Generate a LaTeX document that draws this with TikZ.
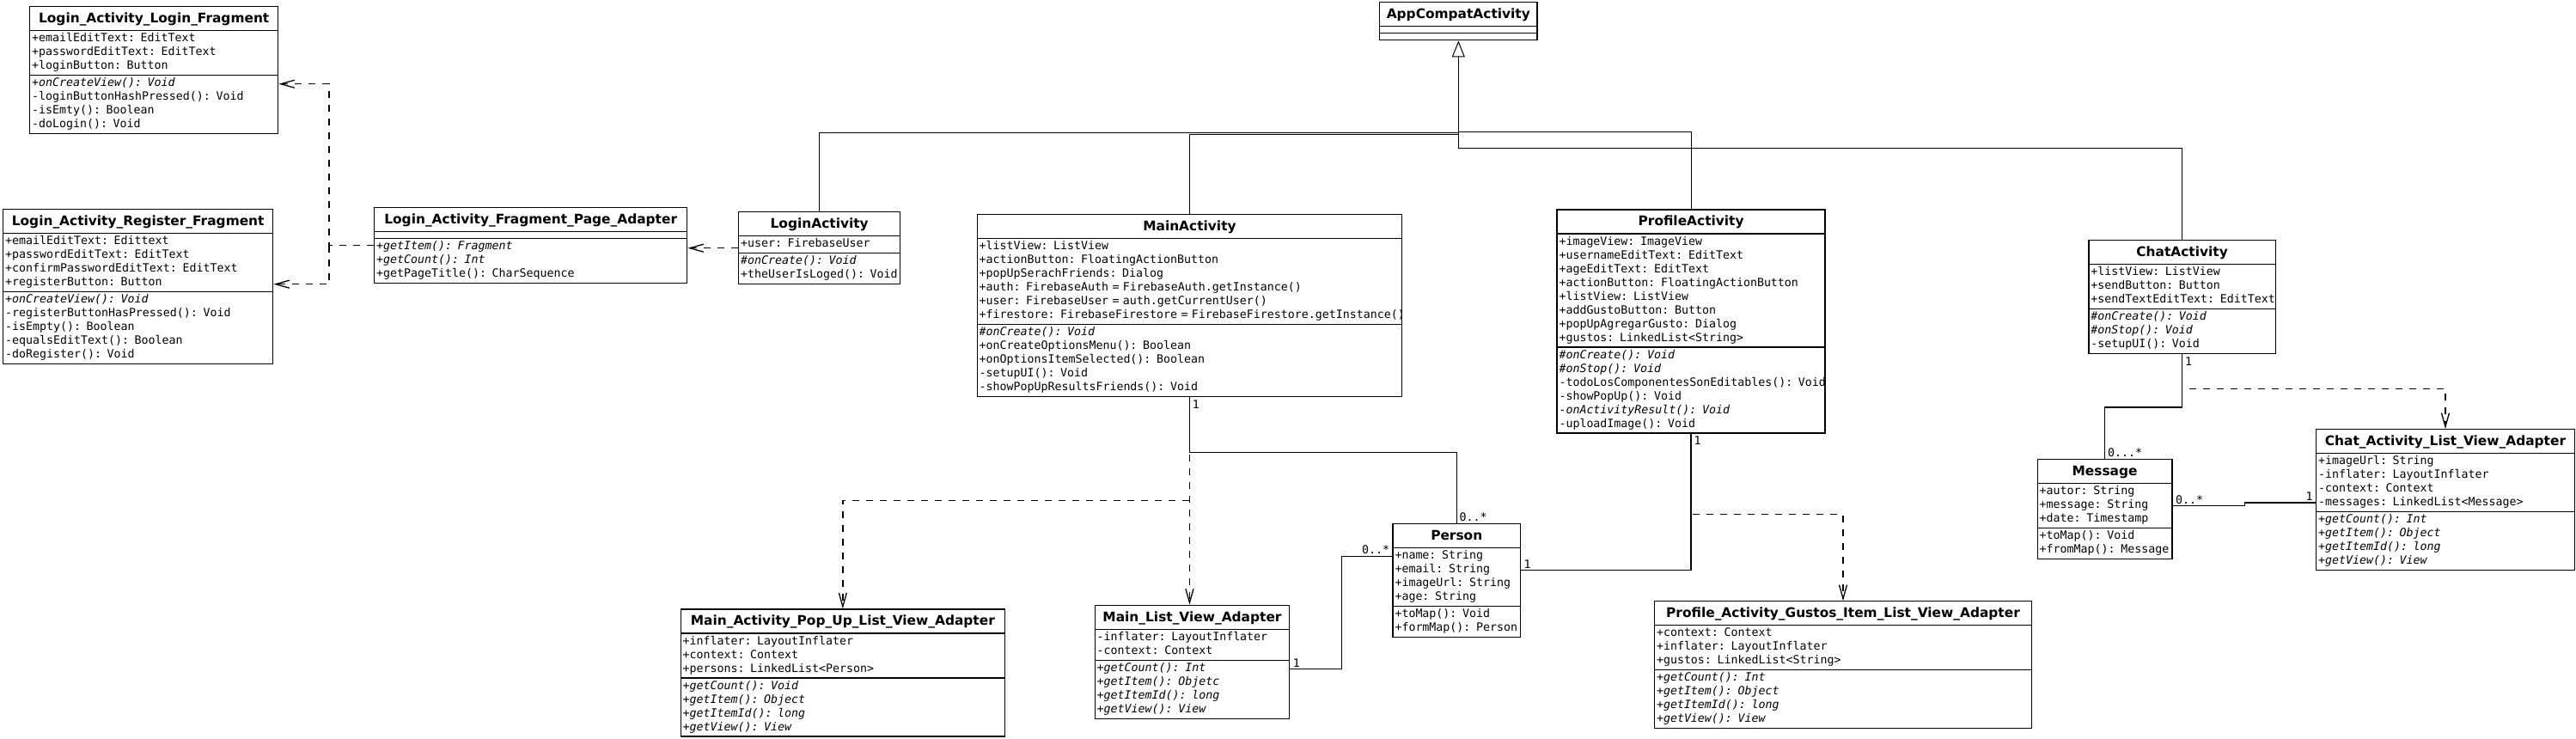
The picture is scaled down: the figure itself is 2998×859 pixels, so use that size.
\documentclass[tikz,border=0pt]{standalone}
\usepackage{fontspec}
\usetikzlibrary{arrows.meta, shapes.multipart, calc}
\setmonofont{DejaVu Sans Mono}
\newfontfamily\classfamily{DejaVu Sans}
\newcommand{\memberfont}{\ttfamily\fontsize{6.64}{8}\selectfont\parindent=0pt}
\newcommand{\classtitle}[1]{\hbox to\hsize{\hfil\classfamily\bfseries\fontsize{7.7}{12}\selectfont\strut#1\hfil}}
\newcommand{\members}[1]{\begin{tabular}{@{}l@{}}#1\end{tabular}}
\newcommand{\nomembers}{\rule{0pt}{2pt}}

\tikzset{
  umlclass/.style={draw, line width=0.7pt, rectangle split, rectangle split parts=3,
    text width=#1, align=left, inner xsep=1.2pt, inner ysep=0.65pt,
    anchor=north west, font=\memberfont},
  assoc/.style={draw, line width=0.65pt},
  dep/.style={draw, line width=0.65pt, dash pattern=on 4pt off 4pt,
    -{Straight Barb[length=8pt,width=4.5pt]}},
  gen/.style={draw, line width=0.5pt},
  mult/.style={font=\memberfont, inner sep=0pt}
}

\begin{document}
\begin{tikzpicture}[x=0.5pt, y=-0.5pt]
\path[use as bounding box, fill=white] (0,0) rectangle (2998,859);

\node (app) at (1605,2) [umlclass=89.2pt] {\classtitle{AppCompatActivity}
  \nodepart{two}\nomembers
  \nodepart{three}\nomembers};

\node (lfrag) at (34,7) [umlclass=142.1pt] {\classtitle{Login\_Activity\_Login\_Fragment}
  \nodepart{two}\members{+emailEditText: EditText\\ +passwordEditText: EditText\\ +loginButton: Button}
  \nodepart{three}\members{\textit{+onCreateView(): Void}\\ -loginButtonHashPressed(): Void\\ -isEmty(): Boolean\\ -doLogin(): Void}};

\node (rfrag) at (3,243) [umlclass=154.6pt] {\classtitle{Login\_Activity\_Register\_Fragment}
  \nodepart{two}\members{+emailEditText: Edittext\\ +passwordEditText: EditText\\ +confirmPasswordEditText: EditText\\ +registerButton: Button}
  \nodepart{three}\members{\textit{+onCreateView(): Void}\\ -registerButtonHasPressed(): Void\\ -isEmpty(): Boolean\\ -equalsEditText(): Boolean\\ -doRegister(): Void}};

\node (padapt) at (435,241) [umlclass=179.6pt] {\classtitle{Login\_Activity\_Fragment\_Page\_Adapter}
  \nodepart{two}\nomembers
  \nodepart{three}\members{\textit{+getItem(): Fragment}\\ \textit{+getCount(): Int}\\ +getPageTitle(): CharSequence}};

\node (login) at (859,246) [umlclass=91.6pt] {\classtitle{LoginActivity}
  \nodepart{two}\members{+user: FirebaseUser}
  \nodepart{three}\members{\textit{\#onCreate(): Void}\\ +theUserIsLoged(): Void}};

\node (main) at (1136.5,249) [umlclass=244.85pt] {\classtitle{MainActivity}
  \nodepart{two}\members{+listView: ListView\\ +actionButton: FloatingActionButton\\ +popUpSerachFriends: Dialog\\ +auth: FirebaseAuth = FirebaseAuth.getInstance()\\ +user: FirebaseUser = auth.getCurrentUser()\\ +firestore: FirebaseFirestore = FirebaseFirestore.getInstance()}
  \nodepart{three}\members{\textit{\#onCreate(): Void}\\ +onCreateOptionsMenu(): Boolean\\ +onOptionsItemSelected(): Boolean\\ -setupUI(): Void\\ -showPopUpResultsFriends(): Void}};

\node (profile) at (1811.4,243.3) [umlclass=153.6pt] {\classtitle{ProfileActivity}
  \nodepart{two}\members{+imageView: ImageView\\ +usernameEditText: EditText\\ +ageEditText: EditText\\ +actionButton: FloatingActionButton\\ +listView: ListView\\ +addGustoButton: Button\\ +popUpAgregarGusto: Dialog\\ +gustos: LinkedList<String>}
  \nodepart{three}\members{\textit{\#onCreate(): Void}\\ \textit{\#onStop(): Void}\\ -todoLosComponentesSonEditables(): Void\\ -showPopUp(): Void\\ \textit{-onActivityResult(): Void}\\ -uploadImage(): Void}};

\node (chat) at (2430.2,279) [umlclass=106.3pt] {\classtitle{ChatActivity}
  \nodepart{two}\members{+listView: ListView\\ +sendButton: Button\\ +sendTextEditText: EditText}
  \nodepart{three}\members{\textit{\#onCreate(): Void}\\ \textit{\#onStop(): Void}\\ -setupUI(): Void}};

\node (message) at (2370.6,534) [umlclass=75.9pt] {\classtitle{Message}
  \nodepart{two}\members{+autor: String\\ +message: String\\ +date: Timestamp}
  \nodepart{three}\members{+toMap(): Void\\ +fromMap(): Message}};

\node (cadapt) at (2695,499) [umlclass=147.85pt] {\classtitle{Chat\_Activity\_List\_View\_Adapter}
  \nodepart{two}\members{+imageUrl: String\\ -inflater: LayoutInflater\\ -context: Context\\ -messages: LinkedList<Message>}
  \nodepart{three}\members{\textit{+getCount(): Int}\\ \textit{+getItem(): Object}\\ \textit{+getItemId(): long}\\ \textit{+getView(): View}}};

\node (popup) at (791.5,708.3) [umlclass=186.25pt] {\classtitle{Main\_Activity\_Pop\_Up\_List\_View\_Adapter}
  \nodepart{two}\members{+inflater: LayoutInflater\\ +context: Context\\ +persons: LinkedList<Person>}
  \nodepart{three}\members{\textit{+getCount(): Void}\\ \textit{+getItem(): Object}\\ \textit{+getItemId(): long}\\ \textit{+getView(): View}}};

\node (mlist) at (1273.6,703.7) [umlclass=110.8pt] {\classtitle{Main\_List\_View\_Adapter}
  \nodepart{two}\members{-inflater: LayoutInflater\\ -context: Context}
  \nodepart{three}\members{\textit{+getCount(): Int}\\ \textit{+getItem(): Objetc}\\ \textit{+getItemId(): long}\\ \textit{+getView(): View}}};

\node (person) at (1620.4,608.7) [umlclass=71.75pt] {\classtitle{Person}
  \nodepart{two}\members{+name: String\\ +email: String\\ +imageUrl: String\\ +age: String}
  \nodepart{three}\members{+toMap(): Void\\ +formMap(): Person}};

\node (gustos) at (1924.9,699) [umlclass=217pt] {\classtitle{Profile\_Activity\_Gustos\_Item\_List\_View\_Adapter}
  \nodepart{two}\members{+context: Context\\ +inflater: LayoutInflater\\ +gustos: LinkedList<String>}
  \nodepart{three}\members{\textit{+getCount(): Int}\\ \textit{+getItem(): Object}\\ \textit{+getItemId(): long}\\ \textit{+getView(): View}}};

% inheritance from AppCompatActivity
\coordinate (trunk) at ($(app.south)+(0,125)$);
\draw[gen] (login.north) |- ($(app.south)+(0,107)$);
\draw[gen] (main.north) |- ($(app.south)+(0,109)$);
\draw[gen] (profile.north) |- ($(app.south)+(0,106)$);
\draw[gen] (chat.north) |- (trunk);
\draw[gen, -{Triangle[open, length=9.5pt, width=7.5pt]}] (trunk) -- (app.south);

% login side
\coordinate (fragbus) at ($(padapt.west)+(-52,0)$);
\draw[dep] (padapt.west) -- (fragbus) |- ($(lfrag.east)+(0,16)$);
\draw[dep] (fragbus) |- ($(rfrag.east)+(0,-3)$);
\draw[dep] (login.west) -- (login.west -| padapt.east);

% main side
\draw[assoc] (main.south) -- ++(0,64) -| (person.north);
\coordinate (maindep) at ($(main.south)+(0,67)$);
\draw[dep] (maindep) -- (maindep |- mlist.north);
\draw[dep] ($(maindep)+(0,53)$) -| (popup.north);
\draw[assoc] ($(mlist.east)+(0,8)$) -- ++(60,0) |- ($(person.west)+(0,-28)$);
\node[mult, anchor=north west] (m1) at ($(main.south)+(3,3)$) {1};
\node[mult, anchor=south west] (m2) at ($(person.north)+(3,-2)$) {0..*};
\node[mult, anchor=south west] (m3) at ($(mlist.east)+(3,6)$) {1};
\node[mult, anchor=south east] (m4) at ($(person.west)+(-3,-30)$) {0..*};

% profile side
\draw[assoc] ($(person.east)+(0,-12)$) -| (profile.south);
\coordinate (profdep) at ($(profile.south)+(2,94)$);
\draw[dep] (profdep) -| (gustos.north);
\node[mult, anchor=south west] (m5) at ($(person.east)+(3,-14)$) {1};
\node[mult, anchor=north west] (m6) at ($(profile.south)+(3,3)$) {1};

% chat side
\draw[assoc] (chat.south) -- ++(0,61.6) -| (message.north);
\coordinate (chatdep) at ($(chat.south)+(8,40)$);
\draw[dep] (chatdep) -| (cadapt.north);
\draw[assoc] ($(message.east)+(0,-4)$) -- ++(84,0) |- ($(cadapt.west)+(0,3.4)$);
\node[mult, anchor=north west] (m7) at ($(chat.south)+(3,3)$) {1};
\node[mult, anchor=south west] (m8) at ($(message.north)+(3,-2)$) {0...*};
\node[mult, anchor=south west] (m9) at ($(message.east)+(3,-6)$) {0..*};
\node[mult, anchor=south east] (m10) at ($(cadapt.west)+(-3,1.4)$) {1};
\end{tikzpicture}
\end{document}
